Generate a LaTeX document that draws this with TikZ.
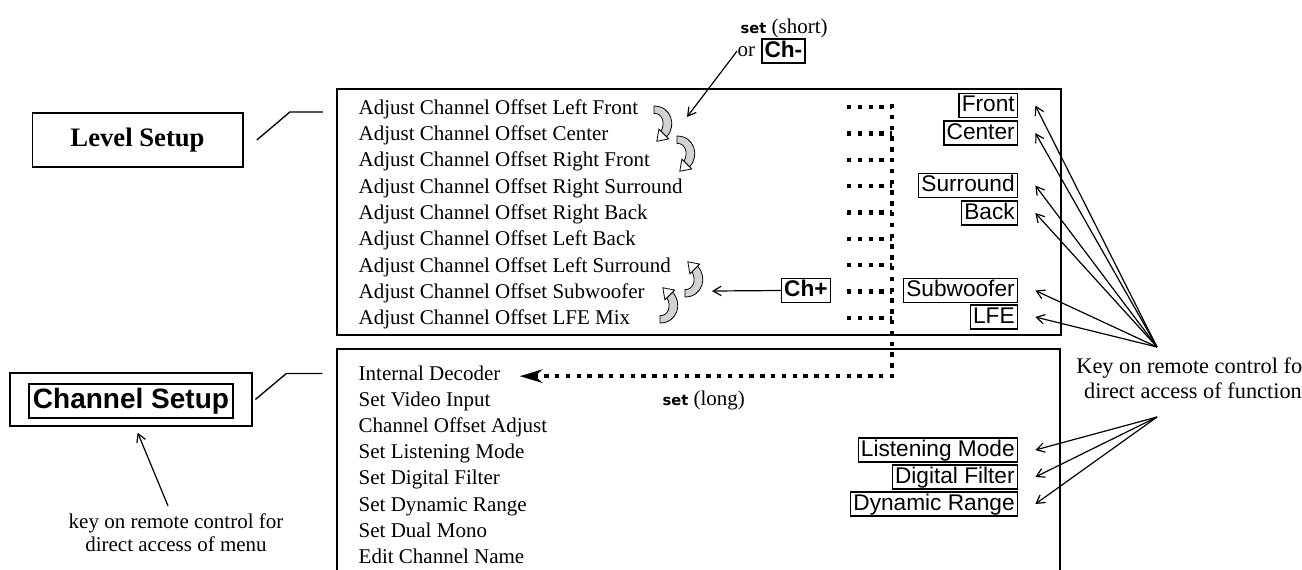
\documentclass[tikz,border=0pt]{standalone}
\usepackage{fontspec}
\setmainfont{Liberation Serif}
\setsansfont{Liberation Sans}
\newfontfamily\setfont{DejaVu Sans}
\usetikzlibrary{arrows.meta,positioning,calc}

\newcommand{\itemfont}{\fontsize{15.75}{19}\selectfont}
\newcommand{\keyset}{{\setfont\bfseries\fontsize{11}{13}\selectfont set}}

\tikzset{
  menuitem/.style={anchor=base west,inner sep=0pt,font=\itemfont},
  keybox/.style={draw,line width=1pt,anchor=east,inner xsep=2pt,inner ysep=1pt,
    text height=12.6pt,text depth=3.4pt,font=\sffamily\fontsize{17}{20}\selectfont},
  boldkey/.style={keybox,font=\sffamily\bfseries\fontsize{17}{20}\selectfont},
  arr/.style={-{Straight Barb[length=6pt,width=7pt]},line width=0.9pt},
  dotline/.style={line width=3.3pt,dash pattern=on 3.3pt off 4.8pt},
  bendarrow/.pic={
    \filldraw[fill=gray!35,line width=0.6pt] (0,0) .. controls (14,0) and (19,16) .. (10.3,25.3)
      -- (5.7,20.7) .. controls (9.5,14) and (7,6) .. (0,6) -- cycle;
    \filldraw[fill=white,line width=0.6pt] (4,19) -- (12,27) -- (2.3,28.9) -- cycle;}
}

\begin{document}
\begin{tikzpicture}[x=0.75pt,y=-0.75pt,line width=1pt]
  \useasboundingbox (0,0) rectangle (1302,569);
  \draw (337,89) rectangle (1061,335);
  \draw (337,575) -- (337,349) -- (1060,349) -- (1060,575);

  \node[draw,minimum width=158pt,minimum height=40.5pt,font=\bfseries\fontsize{20}{24}\selectfont] (lvlsetup) at (137.5,140) {Level Setup};
  \draw ([xshift=10pt]lvlsetup.east) -- ++(33,-28) -- ++(33,0);
  \node[draw,minimum width=153pt,minimum height=25.5pt,inner sep=0pt,font=\sffamily\bfseries\fontsize{21}{24}\selectfont] (chkey) at (131,401) {Channel Setup};
  \node[draw,minimum width=181.5pt,minimum height=39.75pt] (chsetup) at (131,399.5) {};
  \draw ([xshift=2pt]chsetup.east) -- ++(31,-26) -- ++(36,0);

  \foreach \txt [count=\i] in {Left Front,Center,Right Front,Right Surround,Right Back,Left Back,Left Surround,Subwoofer,LFE Mix}
    \node[menuitem] (lvl\i) at (358,{114+26.35*(\i-1)}) {Adjust Channel Offset \txt};
  \foreach \txt [count=\i] in {Internal Decoder,Set Video Input,Channel Offset Adjust,Set Listening Mode,Set Digital Filter,Set Dynamic Range,Set Dual Mono,Edit Channel Name}
    \node[menuitem] (ch\i) at (358,{380+26.2*(\i-1)}) {\txt};

  \node[keybox] (kfront) at (1018,105.5) {Front};
  \node[keybox] (kcenter) at (1018,133) {Center};
  \node[keybox] (ksurr) at (1018,185.5) {Surround};
  \node[keybox] (kback) at (1018,213) {Back};
  \node[keybox] (ksub) at (1018,290.5) {Subwoofer};
  \node[keybox] (klfe) at (1018,317) {LFE};
  \node[keybox] (klisten) at (1018,450) {Listening Mode};
  \node[keybox] (kfilter) at (1018,477) {Digital Filter};
  \node[keybox] (krange) at (1018,504) {Dynamic Range};

  \foreach \i in {1,...,9}
    \draw[dotline] (847,{107+26.35*(\i-1)}) -- (892,{107+26.35*(\i-1)});
  \draw[dotline,-{Stealth[length=17pt,width=10pt]}] (892,104) |- ([shift={(14pt,-2.5pt)}]ch1.east);
  \node[menuitem] (setlong) at (662,405) {\keyset{} (long)};

  \node[menuitem] (setshort) at (740,33) {\keyset{} (short)};
  \node[menuitem] (orlbl) at (737,56) {or};
  \node[boldkey,anchor=west] (chminus) at ([xshift=4pt]orlbl.east) {Ch-};
  \coordinate (shorttip) at (687,117);
  \draw[arr] (orlbl.west) -- (shorttip);

  \pic[scale=1.22] at (654,106) {bendarrow};
  \pic[scale=1.22] at (677,136) {bendarrow};
  \pic[scale=1.22,yscale=-1] at (685,297) {bendarrow};
  \pic[scale=1.22,yscale=-1] at (660,323) {bendarrow};

  \node[boldkey] (chplus) at (831,290.5) {Ch+};
  \coordinate (chplustip) at (712,291);
  \draw[arr] (chplus.west) -- (chplustip);

  \node[menuitem,anchor=base,font=\fontsize{16.75}{20}\selectfont] (keyA) at (1193,373) {Key on remote control for};
  \node[menuitem,anchor=base,font=\fontsize{16.75}{20}\selectfont] (keyB) at (1193,398) {direct access of function};
  \coordinate (hubtop) at (1157,347);
  \coordinate (hubbot) at (1157,417);
  \foreach \k in {kfront,kcenter,ksurr,kback,ksub,klfe}
    \draw[arr] (hubtop) -- ([xshift=13pt]\k.east);
  \foreach \k in {klisten,kfilter,krange}
    \draw[arr] (hubbot) -- ([xshift=13pt]\k.east);

  \node[menuitem,anchor=base] (menuA) at (176,528) {key on remote control for};
  \node[menuitem,anchor=base] (menuB) at (176,551) {direct access of menu};
  \draw[arr] ([shift={(-6pt,5pt)}]menuA.north) -- ([shift={(5pt,-4.5pt)}]chsetup.south);
\end{tikzpicture}
\end{document}
